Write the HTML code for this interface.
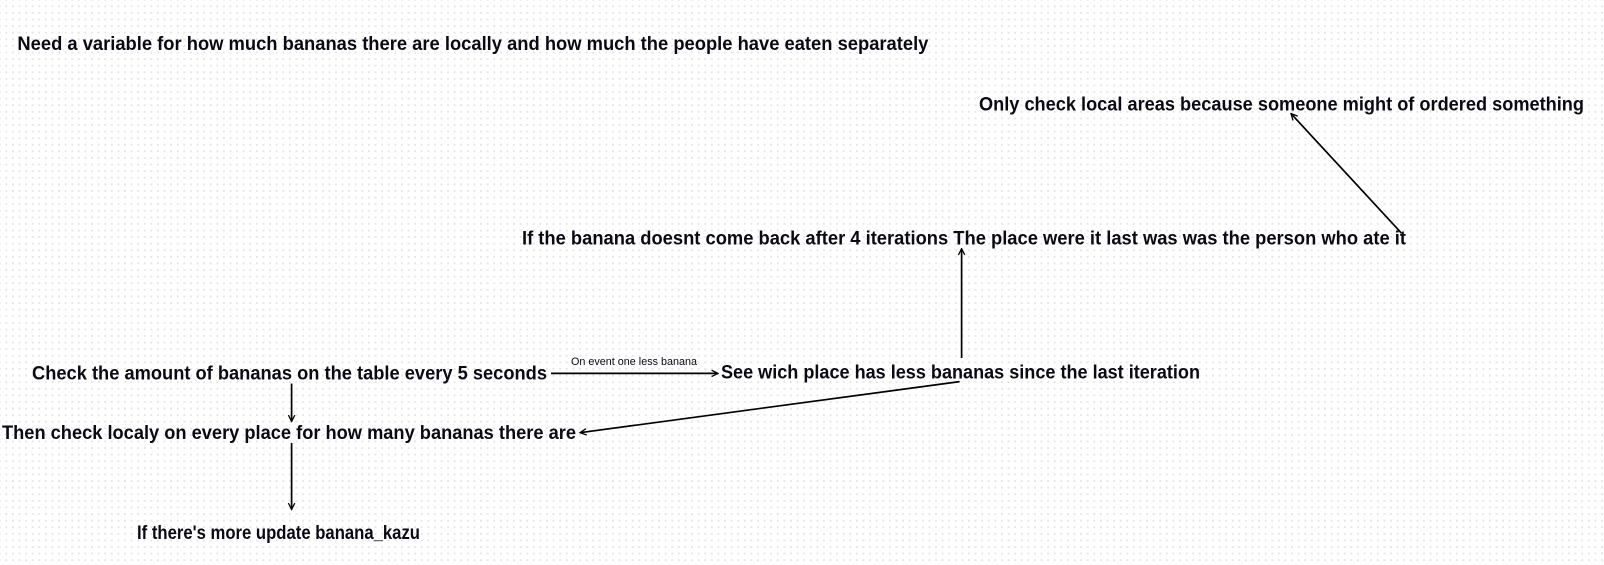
<!DOCTYPE html>
<html><head><meta charset="utf-8"><style>
html,body{margin:0;padding:0;}
body{width:1604px;height:565px;overflow:hidden;background-color:#fff;
background-image:radial-gradient(circle,#e6e6e6 1px,transparent 1.2px);background-size:6.6px 6.6px;background-position:3px 3px;}
svg{position:absolute;left:0;top:0;}
text{font-family:"Liberation Sans",sans-serif;font-weight:bold;font-size:19px;fill:#0a0a14;}
</style></head><body>
<svg width="1604" height="565" viewBox="0 0 1604 565">
<defs><marker id="a" viewBox="0 0 10 10" refX="9" refY="5" markerWidth="8" markerHeight="8" orient="auto" markerUnits="userSpaceOnUse"><path d="M1,1 L9,5 L1,9" fill="none" stroke="#000" stroke-width="1.6"/></marker></defs>
<text x="17.4" y="50" textLength="911" lengthAdjust="spacingAndGlyphs">Need a variable for how much bananas there are locally and how much the people have eaten separately</text>
<text x="979" y="110.5" textLength="605" lengthAdjust="spacingAndGlyphs">Only check local areas because someone might of ordered something</text>
<text x="522" y="244.5" textLength="884" lengthAdjust="spacingAndGlyphs">If the banana doesnt come back after 4 iterations The place were it last was was the person who ate it</text>
<text x="32" y="379.5" textLength="515" lengthAdjust="spacingAndGlyphs">Check the amount of bananas on the table every 5 seconds</text>
<text x="571" y="365" textLength="126" lengthAdjust="spacingAndGlyphs" style="font-size:11px;font-weight:normal">On event one less banana</text>
<text x="721" y="378.5" textLength="479" lengthAdjust="spacingAndGlyphs">See wich place has less bananas since the last iteration</text>
<text x="2" y="439" textLength="574" lengthAdjust="spacingAndGlyphs">Then check localy on every place for how many bananas there are</text>
<text x="137" y="539" textLength="283" lengthAdjust="spacingAndGlyphs">If there's more update banana_kazu</text>
<g stroke="#000" stroke-width="1.7" fill="none" marker-end="url(#a)">
<line x1="551" y1="373.4" x2="718" y2="373.4"/>
<line x1="291.6" y1="383.6" x2="291.6" y2="421.5"/>
<line x1="291.6" y1="443" x2="291.6" y2="509.5"/>
<line x1="959.6" y1="381.6" x2="580" y2="432.7"/>
<line x1="961.6" y1="358" x2="961.6" y2="248.6"/>
<line x1="1401.5" y1="233.2" x2="1291" y2="113.6"/>
</g>
</svg>
</body></html>
